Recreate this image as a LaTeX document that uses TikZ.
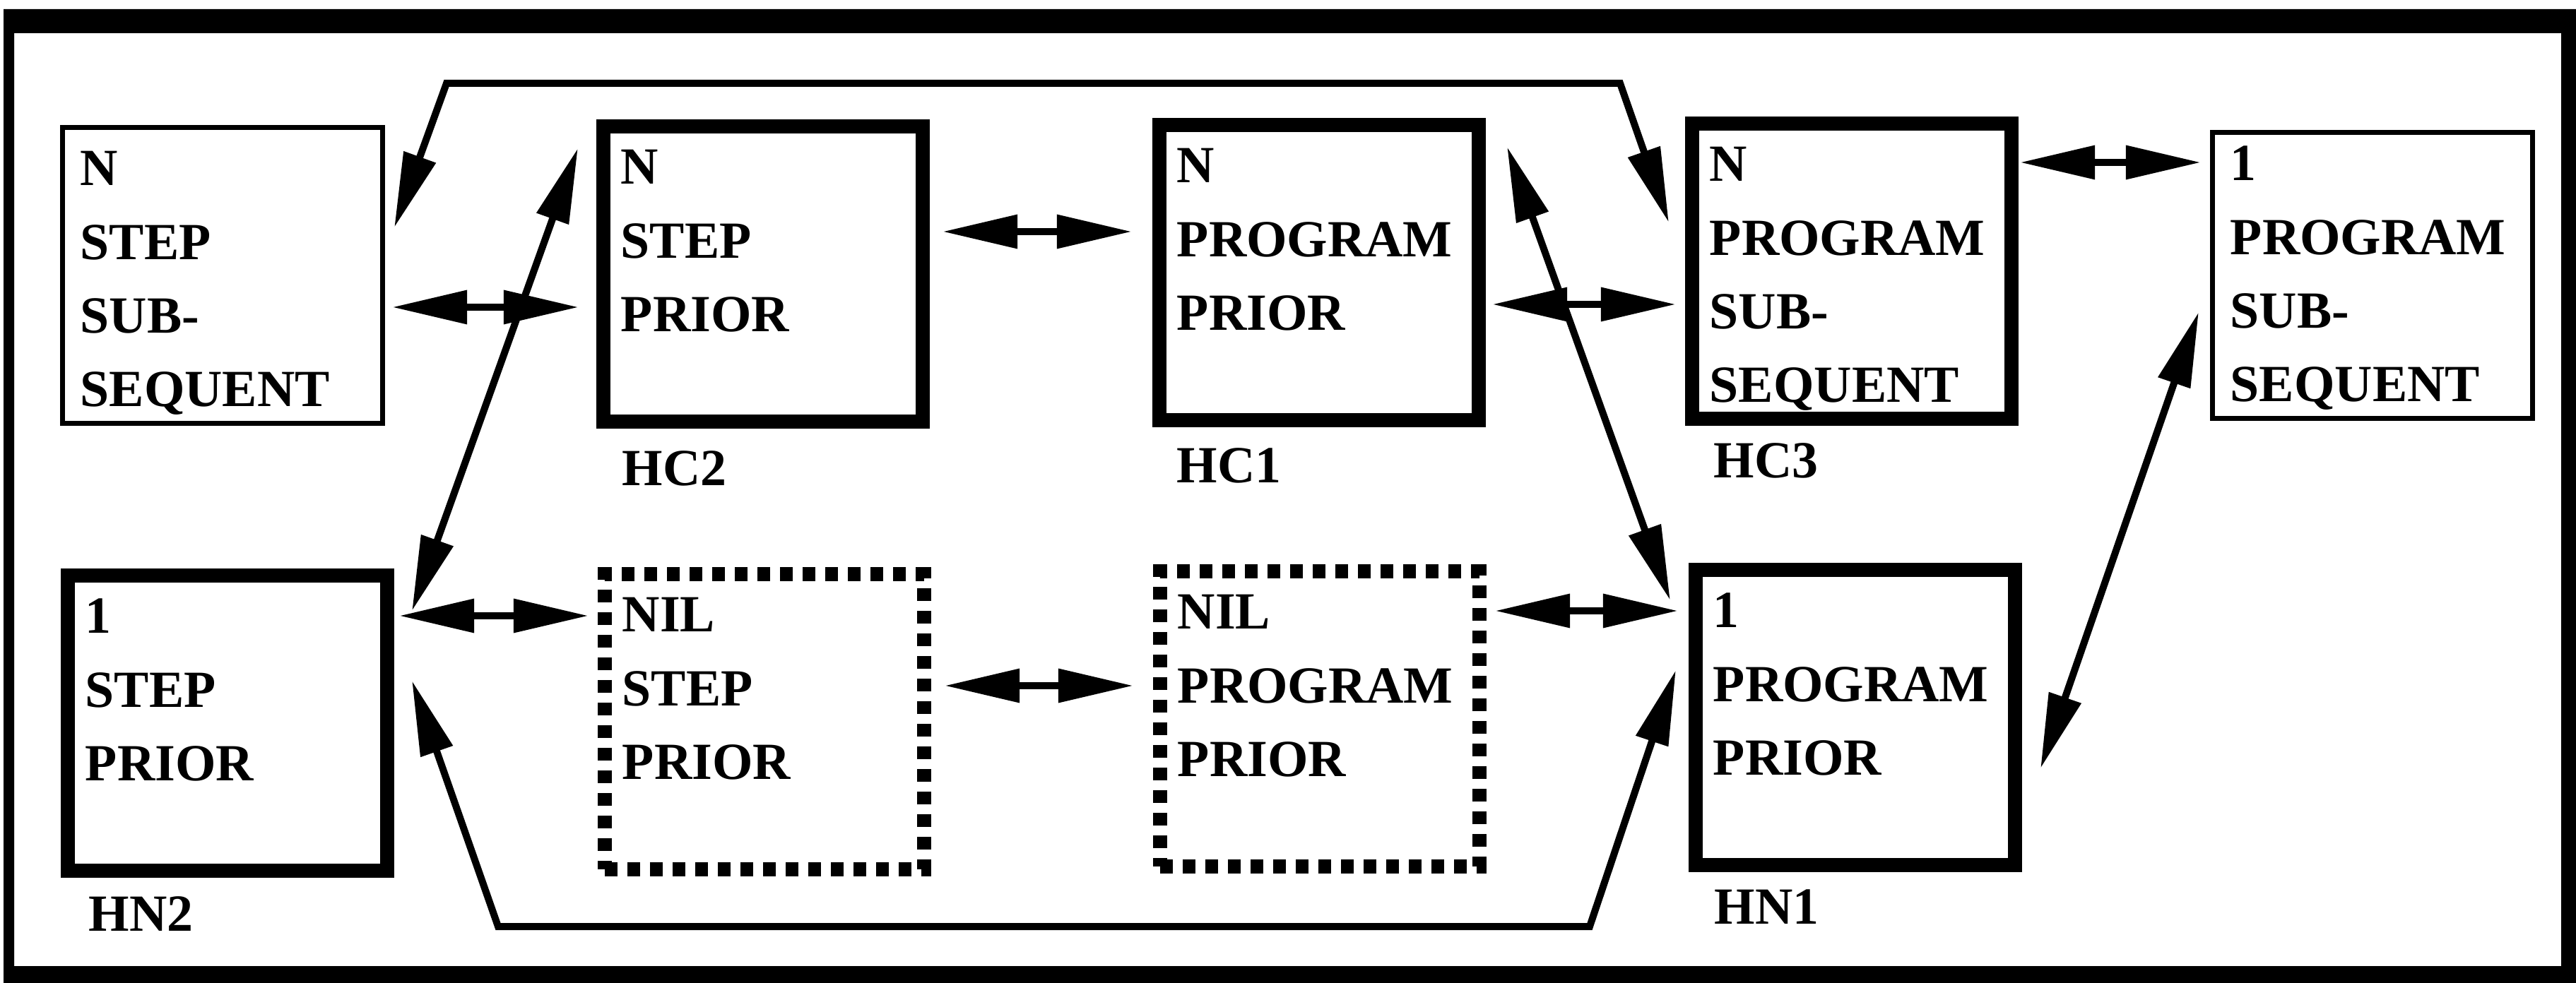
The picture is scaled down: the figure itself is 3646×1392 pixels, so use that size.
\documentclass[tikz,border=0pt]{standalone}
\usepackage{fontspec}
\setmainfont{Liberation Serif}
\usetikzlibrary{arrows.meta,calc}
\begin{document}
\begin{tikzpicture}[x=0.01cm,y=-0.01cm,
	every node/.style={font=\fontsize{21pt}{29.6pt}\selectfont\bfseries},
	box/.style={rectangle,outer sep=0pt,inner xsep=0.25cm,inner ysep=0.2cm,text width=4.02cm,align=left,text height=0.62cm,text depth=3.16cm},
	heavybox/.style={box,draw,line width=0.2cm},
	lightbox/.style={box,draw,line width=0.07cm},
	nilbox/.style={box,draw,line width=0.2cm,dash pattern=on 0.18cm off 0.14cm},
	link/.style={line width=0.1cm,{Triangle[length=1.06cm,width=0.46cm]}-{Triangle[length=1.06cm,width=0.46cm]}},
	tag/.style={anchor=base west,inner sep=0pt}]
					\useasboundingbox (0,0) rectangle (3646,1392);
					\fill[even odd rule] (5,13) rectangle (3646,1392) (20,47) rectangle (3625,1368);
					\node[lightbox] (nsub) at (315,390) {N\\STEP\\SUB-\\SEQUENT};
					\node[heavybox] (hc2) at (1080,388) {N\\STEP\\PRIOR};
					\node[heavybox] (hc1) at (1867,386) {N\\PROGRAM\\PRIOR};
					\node[heavybox] (hc3) at (2621,384) {N\\PROGRAM\\SUB-\\SEQUENT};
					\node[lightbox,text height=0.48cm] (psub) at (3358,390) {1\\PROGRAM\\SUB-\\SEQUENT};
					\node[heavybox] (hn2) at (322,1024) {1\\STEP\\PRIOR};
					\node[nilbox] (nilstep) at (1082,1022) {NIL\\STEP\\PRIOR};
					\node[nilbox] (nilprog) at (1868,1018) {NIL\\PROGRAM\\PRIOR};
					\node[heavybox] (hn1) at (2626,1016) {1\\PROGRAM\\PRIOR};
					\node[tag] (lhc2) at (880,688) {HC2};
					\node[tag] (lhc1) at (1665,684) {HC1};
					\node[tag] (lhc3) at (2425,677) {HC3};
					\node[tag] (lhn2) at (125,1318) {HN2};
					\node[tag] (lhn1) at (2426,1308) {HN1};
					\coordinate (topl) at (632,118);
					\coordinate (topr) at (2293,118);
					\coordinate (botl) at (705,1312);
					\coordinate (botr) at (2250,1312);
					\draw[link] ($(nsub.east)+(14,45)$) -- ($(hc2.west)+(-35,47)$);
					\draw[link] ($(hc2.east)+(28,-60)$) -- ($(hc1.west)+(-39,-58)$);
					\draw[link] ($(hc1.east)+(19,45)$) -- ($(hc3.west)+(-23,47)$);
					\draw[link] ($(hc3.east)+(12,-154)$) -- ($(psub.west)+(-17,-160)$);
					\draw[link] ($(hn2.east)+(17,-152)$) -- ($(nilstep.west)+(-23,-150)$);
					\draw[link] ($(nilstep.east)+(29,-51)$) -- ($(nilprog.west)+(-38,-47)$);
					\draw[link] ($(nilprog.east)+(22,-153)$) -- ($(hn1.west)+(-25,-151)$);
					\draw[link] ($(hc2.west)+(-36,-178)$) -- ($(hn2.east)+(35,-159)$);
					\draw[link] ($(hc1.east)+(40,-178)$) -- ($(hn1.west)+(-36,-166)$);
					\draw[link] ($(psub.west)+(-20,52)$) -- ($(hn1.east)+(36,72)$);
					\draw[link] ($(nsub.east)+(17,-68)$) -- (topl) -- (topr) -- ($(hc3.west)+(-33,-69)$);
					\draw[link] ($(hn2.east)+(35,-60)$) -- (botl) -- (botr) -- ($(hn1.west)+(-28,-67)$);
\end{tikzpicture}
\end{document}
